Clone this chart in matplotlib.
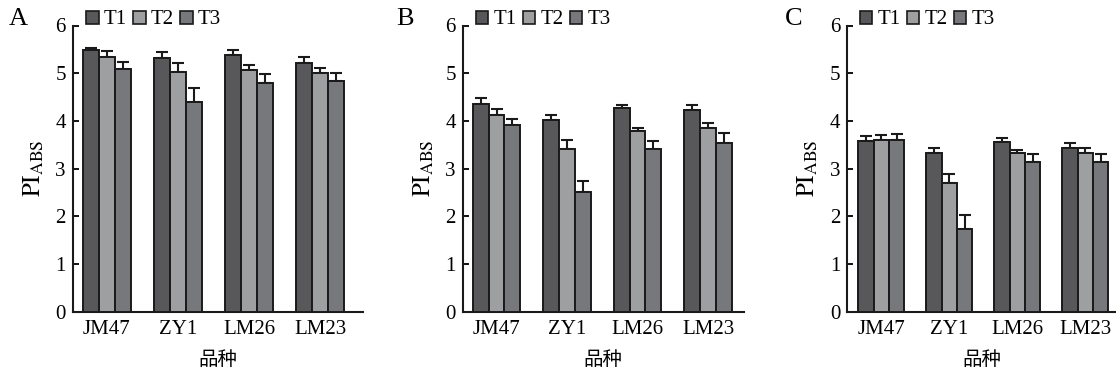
import numpy as np
import matplotlib
matplotlib.use("Agg")
import matplotlib.pyplot as plt
from matplotlib.patches import Patch

plt.rcParams['font.family'] = ['Liberation Serif', 'Noto Sans CJK SC']
plt.rcParams['mathtext.fontset'] = 'stix'

varieties = ['JM47', 'ZY1', 'LM26', 'LM23']
treatments = ['T1', 'T2', 'T3']
panel_names = ['A', 'B', 'C']

# mean values, rows = T1, T2, T3
means_a = [[5.49, 5.32, 5.38, 5.22],
           [5.34, 5.02, 5.07, 5.00],
           [5.08, 4.40, 4.80, 4.84]]
errs_a = [[0.04, 0.12, 0.10, 0.13],
          [0.12, 0.20, 0.11, 0.11],
          [0.15, 0.28, 0.19, 0.17]]

means_b = [[4.36, 4.02, 4.26, 4.22],
           [4.13, 3.42, 3.79, 3.86],
           [3.91, 2.51, 3.42, 3.54]]
errs_b = [[0.11, 0.11, 0.08, 0.12],
          [0.12, 0.19, 0.07, 0.09],
          [0.14, 0.24, 0.16, 0.20]]

means_c = [[3.57, 3.32, 3.55, 3.43],
           [3.59, 2.69, 3.32, 3.32],
           [3.61, 1.73, 3.13, 3.13]]
errs_c = [[0.11, 0.12, 0.10, 0.11],
          [0.11, 0.20, 0.07, 0.11],
          [0.12, 0.29, 0.17, 0.18]]

colors = ['#58585a', '#9e9fa1', '#77787b']

W, H = 1116, 373
fig = plt.figure(figsize=(W / 100, H / 100), dpi=100)

# pixel layout: (left, axis right end, xlim right, xlim left, letter x)
layout = [(72.7, 363.0, 3.60, -0.48, 18),
          (462.7, 744.0, 3.51, -0.48, 405),
          (847.3, 1116.0, 3.45, -0.50, 794)]
y_bottom, y_top = 311.7, 25.5

all_means = [means_a, means_b, means_c]
all_errs = [errs_a, errs_b, errs_c]

bar_w = 0.225
x = np.arange(len(varieties))

for k in range(3):
    left, right, xr, xl, letter_x = layout[k]
    ax_w = right - left
    ax_h = y_bottom - y_top
    ax = fig.add_axes([left / W, (H - y_bottom) / H, ax_w / W, ax_h / H])
    for i in range(3):
        pos = x + (i - 1) * bar_w
        ax.bar(pos, all_means[k][i], bar_w, color=colors[i],
               edgecolor='#1a1a1a', linewidth=1.4, zorder=3)
        ax.errorbar(pos, all_means[k][i],
                    yerr=[np.zeros(4), all_errs[k][i]],
                    fmt='none', ecolor='#1a1a1a', elinewidth=1.5,
                    capsize=4, capthick=1.5, zorder=2)
    ax.set_xlim(xl, xr)
    ax.set_ylim(0, 6)
    ax.set_yticks(range(7))
    ax.set_xticks(x)
    ax.set_xticklabels(varieties)
    ax.tick_params(axis='y', direction='in', length=4, width=1.3,
                   labelsize=15, pad=5)
    ax.tick_params(axis='x', length=0, labelsize=15, pad=6)
    for s in ['top', 'right']:
        ax.spines[s].set_visible(False)
    for s in ['left', 'bottom']:
        ax.spines[s].set_linewidth(1.5)
        ax.spines[s].set_color('#1a1a1a')
    ax.set_xlabel('品种', fontsize=14, labelpad=9)
    ax.set_ylabel(r'$\mathrm{PI}_{\mathrm{ABS}}$', fontsize=18, labelpad=7)
    ax.text((letter_x - left) / ax_w, (y_bottom - 19) / ax_h, panel_names[k],
            transform=ax.transAxes, fontsize=19, va='center', ha='center')
    handles = [Patch(facecolor=colors[i], edgecolor='#1a1a1a', linewidth=1.2)
               for i in range(3)]
    ax.legend(handles, treatments, loc='center left',
              bbox_to_anchor=((86 - 72.7) / 290, (y_bottom - 20) / ax_h),
              ncol=3, frameon=False, fontsize=15, handlelength=0.6,
              handleheight=0.6, handletextpad=0.25, columnspacing=0.3,
              borderaxespad=0.0, borderpad=0.0)

fig.savefig('out.png', dpi=100)
